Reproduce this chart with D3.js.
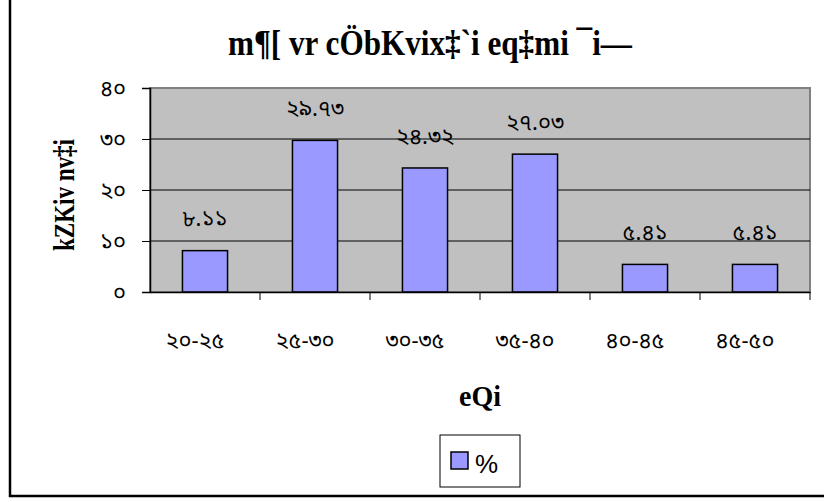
<!DOCTYPE html>
<html>
<head>
<meta charset="utf-8">
<script src="https://cdn.jsdelivr.net/npm/d3@7"></script>
<style>
  html, body { margin: 0; padding: 0; background: #fff; }
  svg { display: block; }
</style>
</head>
<body>
<svg id="chart" width="824" height="502"></svg>
<script>
const categories = ["২০-২৫", "২৫-৩০", "৩০-৩৫", "৩৫-৪০", "৪০-৪৫", "৪৫-৫০"];
const values = [8.11, 29.73, 24.32, 27.03, 5.41, 5.41];
const valueLabels = ["৮.১১", "২৯.৭৩", "২৪.৩২", "২৭.০৩", "৫.৪১", "৫.৪১"];
const yTicks = [0, 10, 20, 30, 40];
const yTickLabels = ["০", "১০", "২০", "৩০", "৪০"];
const titleText = "m¶[ vr cÖbKvix‡`i eq‡mi ¯i—";
const yTitle = "kZKiv nv‡i";
const xTitle = "eQi";
const seriesName = "%";

const svg = d3.select("#chart");
const plot = { left: 150, right: 810, top: 88, bottom: 292 };
const bnFont = "'Noto Sans Bengali','Lohit Bengali','Vrinda','Noto Sans',sans-serif";
const serif = "'Liberation Serif','Times New Roman',serif";

// outer chart border
svg.append("path")
  .attr("d", "M10,-5 L10,496 L830,496")
  .attr("fill", "none").attr("stroke", "#000").attr("stroke-width", 2.5);

const x = d3.scaleBand().domain(categories).range([plot.left, plot.right]).paddingInner(0.59).paddingOuter(0.295);
const xb = d3.scaleBand().domain(categories).range([plot.left, plot.right]);
const y = d3.scaleLinear().domain([0, 40]).range([plot.bottom, plot.top]);

// plot background
svg.append("rect")
  .attr("x", plot.left).attr("y", plot.top)
  .attr("width", plot.right - plot.left).attr("height", plot.bottom - plot.top)
  .attr("fill", "#C0C0C0").attr("stroke", "#808080").attr("stroke-width", 2);

// gridlines
svg.append("g").selectAll("line").data(yTicks.filter(d => d > 0 && d < 40)).join("line")
  .attr("x1", plot.left).attr("x2", plot.right)
  .attr("y1", d => y(d)).attr("y2", d => y(d))
  .attr("stroke", "#000").attr("stroke-width", 1);

// bars
svg.append("g").selectAll("rect").data(values).join("rect")
  .attr("x", (d, i) => x(categories[i]))
  .attr("y", d => y(d))
  .attr("width", x.bandwidth())
  .attr("height", d => y(0) - y(d))
  .attr("fill", "#9999FF").attr("stroke", "#000").attr("stroke-width", 1.5);

// y axis
const yAxis = d3.axisLeft(y).tickValues(yTicks).tickSize(8).tickFormat((d, i) => yTickLabels[i]);
const gy = svg.append("g").attr("transform", `translate(${plot.left},0)`).call(yAxis);
gy.select(".domain").attr("stroke", "#000").attr("stroke-width", 1.5);
gy.selectAll(".tick line").attr("stroke", "#000");
gy.selectAll(".tick text").attr("x", -24).attr("font-family", bnFont).attr("font-size", 22).attr("fill", "#000");

// x axis
const xAxis = d3.axisBottom(xb).tickSize(0).tickFormat(d => d);
const gx = svg.append("g").attr("transform", `translate(0,${plot.bottom})`).call(xAxis);
gx.select(".domain").attr("stroke", "#000").attr("stroke-width", 1.5);
gx.selectAll(".tick text").attr("x", -10).attr("y", 48).attr("dy", "0.35em").attr("font-family", bnFont).attr("font-size", 22).attr("fill", "#000");
// boundary ticks
svg.append("g").selectAll("line").data(categories.slice(1)).join("line")
  .attr("x1", d => xb(d)).attr("x2", d => xb(d))
  .attr("y1", plot.bottom).attr("y2", plot.bottom + 8)
  .attr("stroke", "#000");
svg.append("line").attr("x1", plot.right).attr("x2", plot.right)
  .attr("y1", plot.bottom).attr("y2", plot.bottom + 8).attr("stroke", "#000");

// value labels
svg.append("g").selectAll("text").data(values).join("text")
  .attr("x", (d, i) => x(categories[i]) + x.bandwidth() / 2)
  .attr("y", d => y(d) - 32)
  .attr("dy", "0.35em")
  .attr("text-anchor", "middle")
  .attr("font-family", bnFont).attr("font-size", 22).attr("fill", "#000")
  .text((d, i) => valueLabels[i]);

// title
svg.append("text")
  .attr("x", 430).attr("y", 55)
  .attr("text-anchor", "middle")
  .attr("font-family", serif).attr("font-weight", "bold").attr("font-size", 36)
  .attr("textLength", 404).attr("lengthAdjust", "spacingAndGlyphs")
  .text(titleText);

// y title
svg.append("text")
  .attr("transform", "translate(74,195) rotate(-90)")
  .attr("text-anchor", "middle")
  .attr("font-family", serif).attr("font-weight", "bold").attr("font-size", 30)
  .attr("textLength", 112).attr("lengthAdjust", "spacingAndGlyphs")
  .text(yTitle);

// x title
svg.append("text")
  .attr("x", 480).attr("y", 406)
  .attr("text-anchor", "middle")
  .attr("font-family", serif).attr("font-weight", "bold").attr("font-size", 30)
  .attr("textLength", 42).attr("lengthAdjust", "spacingAndGlyphs")
  .text(xTitle);

// legend
const lg = svg.append("g");
lg.append("rect").attr("x", 440).attr("y", 435).attr("width", 80).attr("height", 52)
  .attr("fill", "#fff").attr("stroke", "#000").attr("stroke-width", 1);
lg.append("rect").attr("x", 451).attr("y", 452).attr("width", 17).attr("height", 17)
  .attr("fill", "#9999FF").attr("stroke", "#000").attr("stroke-width", 1.5);
lg.append("text").attr("x", 475).attr("y", 473)
  .attr("font-family", "'Liberation Sans',Arial,sans-serif").attr("font-size", 26)
  .text(seriesName);
</script>
</body>
</html>
